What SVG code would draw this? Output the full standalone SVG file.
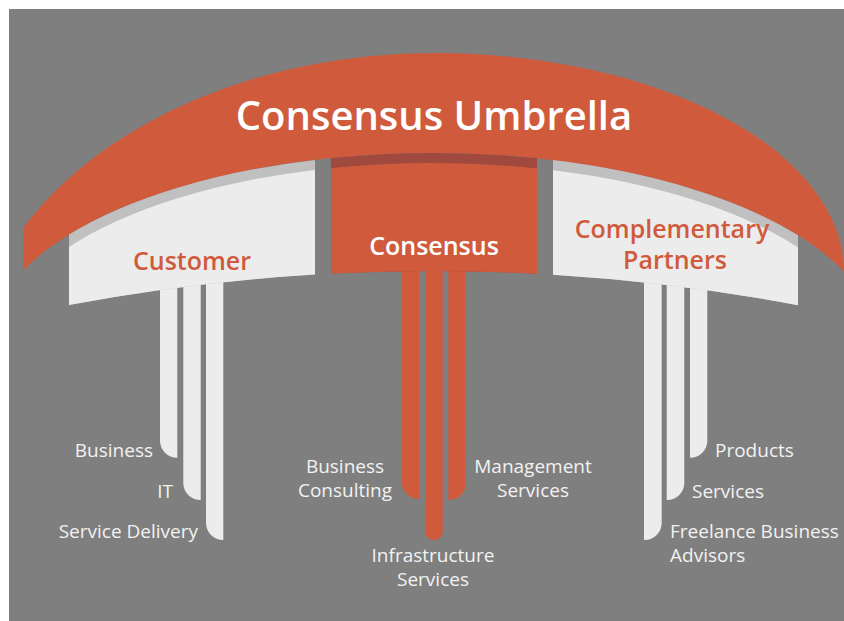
<svg xmlns="http://www.w3.org/2000/svg" width="844" height="621" viewBox="0 0 844 621">
  <style>
    .title { font-family: "Open Sans", "Liberation Sans", sans-serif; font-weight: 600; }
    .lbl { font-family: "Open Sans", "Liberation Sans", sans-serif; font-size: 19px; fill: #f2f2f2; }
    .red { fill: #d05b3c; }
    .dark { fill: #a0493f; }
    .strip { fill: #c0c0c0; }
    .light { fill: #ececec; }
  </style>
  <rect x="0" y="0" width="844" height="621" fill="#ffffff"/>
  <rect x="9" y="9" width="835" height="612" fill="#7f7f7f"/>

  <g id="umbrella">
    <path class="red" d="M 23,270.4 L 23,228 A 466 331 0 0 1 434,53 A 410 219 0 0 1 844,272 L 844,271.4 A 445 192 0 0 0 23,270.4 Z"/>
    <text class="title" x="434" y="130" font-size="40" fill="#ffffff" text-anchor="middle">Consensus Umbrella</text>
  </g>

  <g id="connectors">
    <path class="light" d="M 160,280 L 160,440.7 A 17 17 0 0 0 177,457.7 L 177.3,457.7 L 177.3,280 Z"/>
    <path class="light" d="M 183.3,280 L 183.3,483 A 17 17 0 0 0 200.3,500 L 200.7,500 L 200.7,280 Z"/>
    <path class="light" d="M 206,280 L 206,523 A 17 17 0 0 0 223,540 L 223.3,540 L 223.3,280 Z"/>
    <path class="red" d="M 401.7,268 L 401.7,482 A 17 17 0 0 0 418.7,499 L 419.3,499 L 419.3,268 Z"/>
    <path class="red" d="M 425,268 L 425,531.2 A 8.85 8.85 0 0 0 442.7,531.2 L 442.7,268 Z"/>
    <path class="red" d="M 448.3,268 L 448.3,500 L 449,500 A 17 17 0 0 0 466,483 L 466,268 Z"/>
    <path class="light" d="M 644,280 L 644,540 L 644.7,540 A 17 17 0 0 0 661.7,523 L 661.7,280 Z"/>
    <path class="light" d="M 666.7,280 L 666.7,500 L 667.3,500 A 17 17 0 0 0 684.3,483 L 684.3,280 Z"/>
    <path class="light" d="M 690,280 L 690,457.7 L 690.3,457.7 A 17 17 0 0 0 707.3,440.7 L 707.3,280 Z"/>
  </g>

  <g id="customer">
    <path class="strip" d="M 69,305 L 69,234.6 A 445 192 0 0 1 315,159.9 L 315,274.5 A 1965 1965 0 0 0 69,305 Z"/>
    <path class="light" d="M 69,305 L 69,247 A 432 182 0 0 1 315,169.9 L 315,274.5 A 1965 1965 0 0 0 69,305 Z"/>
    <text class="title" x="192" y="270" font-size="25" fill="#d05b3c" text-anchor="middle">Customer</text>
  </g>

  <g id="consensus">
    <path class="dark" d="M 331,273.6 L 331,158.1 A 445 192 0 0 1 537,158.3 L 537,273.7 A 1965 1965 0 0 0 331,273.6 Z"/>
    <path class="red" d="M 331,273.6 L 331,168.1 A 432 182 0 0 1 537,168.4 L 537,273.7 A 1965 1965 0 0 0 331,273.6 Z"/>
    <text class="title" x="434" y="255" font-size="25" fill="#ffffff" text-anchor="middle">Consensus</text>
  </g>

  <g id="partners">
    <path class="strip" d="M 553,274.7 L 553,160.1 A 445 192 0 0 1 798,235.2 L 798,305.2 A 1965 1965 0 0 0 553,274.7 Z"/>
    <path class="light" d="M 553,274.7 L 553,170.2 A 432 182 0 0 1 798,247.6 L 798,305.2 A 1965 1965 0 0 0 553,274.7 Z"/>
    <text class="title" font-size="25" fill="#d05b3c" text-anchor="middle"><tspan x="672" y="238">Complementary</tspan><tspan x="675" y="269">Partners</tspan></text>
  </g>

  <g id="label-business"><text class="lbl" x="153" y="457" text-anchor="end">Business</text></g>
  <g id="label-it"><text class="lbl" x="173" y="498" text-anchor="end">IT</text></g>
  <g id="label-service-delivery"><text class="lbl" x="198" y="538" text-anchor="end">Service Delivery</text></g>
  <g id="label-business-consulting"><text class="lbl" text-anchor="middle"><tspan x="345" y="473">Business</tspan><tspan x="345" y="497">Consulting</tspan></text></g>
  <g id="label-management-services"><text class="lbl" text-anchor="middle"><tspan x="533" y="472.5">Management</tspan><tspan x="533" y="497">Services</tspan></text></g>
  <g id="label-infrastructure-services"><text class="lbl" text-anchor="middle"><tspan x="433" y="561.5">Infrastructure</tspan><tspan x="433" y="586">Services</tspan></text></g>
  <g id="label-products"><text class="lbl" x="715" y="457">Products</text></g>
  <g id="label-services"><text class="lbl" x="692" y="498">Services</text></g>
  <g id="label-freelance"><text class="lbl"><tspan x="670" y="538">Freelance Business</tspan><tspan x="670" y="562">Advisors</tspan></text></g>
</svg>
